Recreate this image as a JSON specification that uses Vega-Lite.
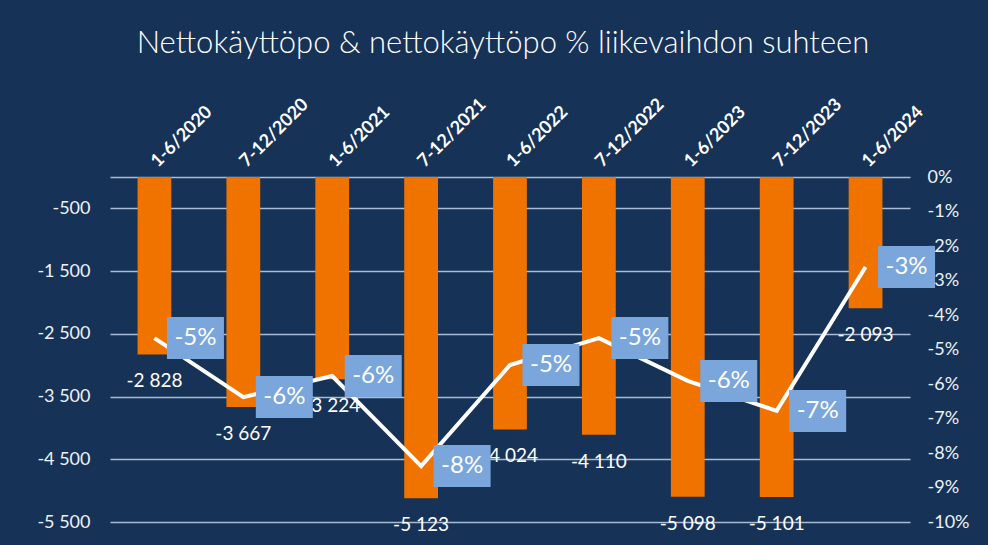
{
  "$schema": "https://vega.github.io/schema/vega-lite/v6.json",
  "width": 800,
  "height": 345,
  "autosize": {"type": "none"},
  "padding": {"left": 110, "top": 177, "right": 78, "bottom": 23},
  "background": "#163256",
  "title": {
    "text": "Nettokäyttöpo & nettokäyttöpo % liikevaihdon suhteen",
    "font": "Lato",
    "fontSize": 31,
    "fontWeight": 300,
    "color": "#ffffff",
    "anchor": "middle",
    "offset": 35,
    "dx": -7
  },
  "data": {
    "values": [
      {"period": "1-6/2020", "netto": -2828, "pct": -0.0467},
      {"period": "7-12/2020", "netto": -3667, "pct": -0.0638},
      {"period": "1-6/2021", "netto": -3224, "pct": -0.0577},
      {"period": "7-12/2021", "netto": -5123, "pct": -0.0838},
      {"period": "1-6/2022", "netto": -4024, "pct": -0.0545},
      {"period": "7-12/2022", "netto": -4110, "pct": -0.0467},
      {"period": "1-6/2023", "netto": -5098, "pct": -0.0591},
      {"period": "7-12/2023", "netto": -5101, "pct": -0.0678},
      {"period": "1-6/2024", "netto": -2093, "pct": -0.0261}
    ]
  },
  "encoding": {
    "x": {
      "field": "period",
      "type": "nominal",
      "sort": null,
      "scale": {"paddingInner": 0.62, "paddingOuter": 0.31},
      "axis": {
        "orient": "top",
        "title": null,
        "labelAngle": -45,
        "labelAlign": "left",
        "labelBaseline": "middle",
        "labelPadding": 13,
        "labelFont": "Lato",
        "labelFontSize": 18,
        "labelFontWeight": "bold",
        "labelColor": "#ffffff",
        "labelOverlap": false,
        "ticks": false,
        "domain": false
      }
    }
  },
  "layer": [
    {
      "encoding": {
        "y": {
          "field": "netto",
          "type": "quantitative",
          "scale": {"domain": [-5500, 0], "nice": false, "zero": true},
          "axis": {
            "orient": "left",
            "title": null,
            "values": [0, -500, -1500, -2500, -3500, -4500, -5500],
            "labelExpr": "datum.value == 0 ? '' : format(datum.value, ',d')",
            "grid": true,
            "gridColor": "#a9bcd8",
            "gridWidth": 1.5,
            "ticks": false,
            "domain": false,
            "labelPadding": 20,
            "labelOverlap": false,
            "labelFont": "Lato",
            "labelFontSize": 18,
            "labelColor": "#eef2f8"
          }
        }
      },
      "layer": [
        {
          "mark": {"type": "bar", "color": "#f07300"}
        },
        {
          "mark": {"type": "text", "baseline": "middle", "dy": 27, "fontSize": 19, "font": "Lato", "color": "#ffffff"},
          "encoding": {
            "text": {"field": "netto", "type": "quantitative", "format": ",d"}
          }
        }
      ]
    },
    {
      "encoding": {
        "y": {
          "field": "pct",
          "type": "quantitative",
          "scale": {"domain": [-0.1, 0], "nice": false},
          "axis": {
            "orient": "right",
            "title": null,
            "values": [0, -0.01, -0.02, -0.03, -0.04, -0.05, -0.06, -0.07, -0.08, -0.09, -0.1],
            "format": ".0%",
            "grid": false,
            "ticks": false,
            "domain": false,
            "labelOverlap": false,
            "labelPadding": 17,
            "labelFont": "Lato",
            "labelFontSize": 18,
            "labelColor": "#eef2f8"
          }
        }
      },
      "layer": [
        {
          "mark": {"type": "line", "color": "#ffffff", "strokeWidth": 4}
        },
        {
          "mark": {"type": "point", "shape": "M-1,-0.737H1V0.737H-1Z", "size": 3249, "filled": true, "color": "#7aa6dc", "opacity": 1, "xOffset": 41, "strokeWidth": 0}
        },
        {
          "mark": {"type": "text", "baseline": "middle", "dx": 41, "fontSize": 24, "font": "Lato", "color": "#ffffff"},
          "encoding": {
            "text": {"field": "pct", "type": "quantitative", "format": ".0%"}
          }
        }
      ]
    }
  ],
  "resolve": {"scale": {"y": "independent"}},
  "config": {
    "view": {"stroke": null},
    "locale": {
      "number": {"decimal": ",", "thousands": " ", "grouping": [3], "currency": ["", " €"], "minus": "-", "percent": "%"}
    }
  }
}
